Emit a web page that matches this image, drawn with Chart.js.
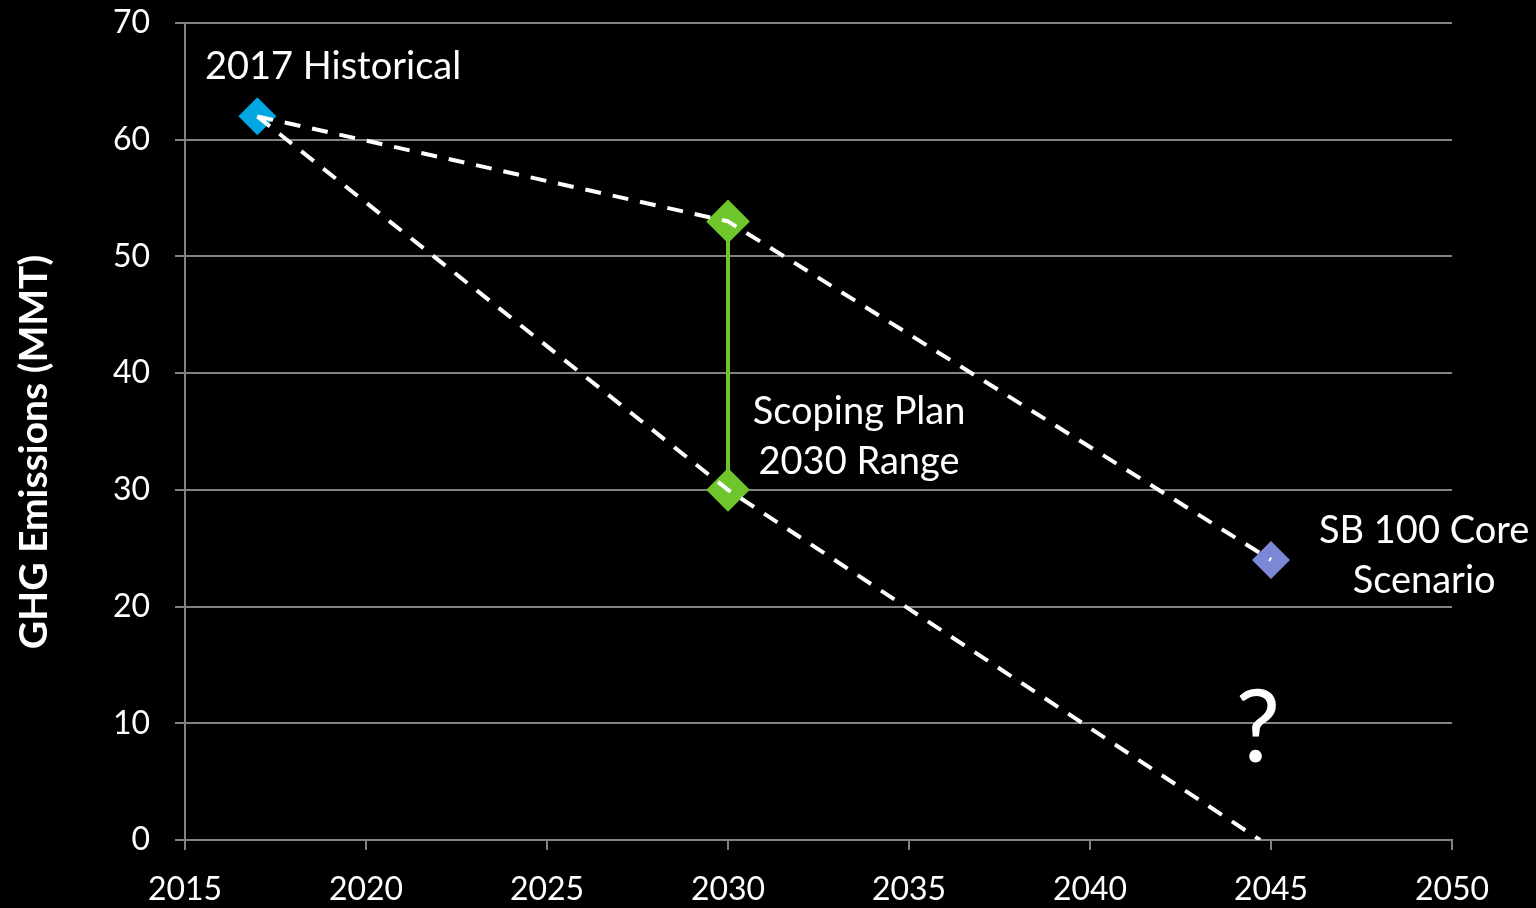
<!DOCTYPE html>
<html>
<head>
<meta charset="utf-8">
<script src="https://cdn.jsdelivr.net/npm/chart.js@4.4.0/dist/chart.umd.min.js"></script>
<style>
  html, body { margin: 0; background: #000; }
  #wrap { width: 1536px; height: 908px; position: relative; }
</style>
</head>
<body>
<div id="wrap"><canvas id="chart"></canvas></div>
<script>
// GHG emissions pathways — historical point, 2030 scoping range, SB 100 core scenario.
const xTicks = [2015, 2020, 2025, 2030, 2035, 2040, 2045, 2050];
const yTicks = [0, 10, 20, 30, 40, 50, 60, 70];

const historical = [{ x: 2017, y: 62 }];
const scopingRange = [{ x: 2030, y: 53 }, { x: 2030, y: 30 }];
const sb100Core = [{ x: 2045, y: 24 }];
const upperPath = [{ x: 2017, y: 62 }, { x: 2030, y: 53 }, { x: 2045, y: 24 }];
const lowerPath = [{ x: 2017, y: 62 }, { x: 2030, y: 30 }, { x: 2044.7, y: 0 }];

const yTitle = 'GHG Emissions (MMT)';
// text notes anchored in data units (x = year, y = emissions at baseline)
const notes = [
  { lines: ['2017 Historical'], x: 2015.55, y: 65.2, align: 'left', size: 38 },
  { lines: ['Scoping Plan', '2030 Range'], x: 2033.62, y: 35.6, align: 'center', size: 38 },
  { lines: ['SB 100 Core', 'Scenario'], x: 2049.23, y: 25.44, align: 'center', size: 38 },
  { lines: ['?'], x: 2044.64, y: 6.66, align: 'center', size: 100 },
];

const FONT = 'Lato, "Open Sans", sans-serif';
const GRID = '#828282';

const notesPlugin = {
  id: 'notes',
  afterDatasetsDraw(chart) {
    const { ctx, scales: { x, y } } = chart;
    ctx.save();
    ctx.fillStyle = '#fff';
    ctx.textBaseline = 'alphabetic';
    notes.forEach((n) => {
      ctx.font = `${n.size}px ${FONT}`;
      ctx.textAlign = n.align;
      const px = x.getPixelForValue(n.x);
      const py = y.getPixelForValue(n.y);
      n.lines.forEach((line, i) => ctx.fillText(line, px, py + i * 50));
    });
    // rotated axis title
    ctx.font = `bold 39px ${FONT}`;
    ctx.textAlign = 'center';
    ctx.textBaseline = 'middle';
    ctx.translate(34, 452);
    ctx.rotate(-Math.PI / 2);
    ctx.fillText(yTitle, 0, 0);
    ctx.restore();
  },
};

const dashed = (data) => ({
  data, showLine: true, borderColor: '#fff', borderWidth: 4,
  borderDash: [16, 12], pointRadius: 0, fill: false, order: 0,
});
const marker = (data, color) => ({
  data, pointStyle: 'rectRot', pointRadius: 19, pointHoverRadius: 19,
  backgroundColor: color, borderColor: color, borderWidth: 0, order: 1,
});

new Chart(document.getElementById('chart'), {
  type: 'scatter',
  data: {
    datasets: [
      dashed(upperPath),
      dashed(lowerPath),
      { ...marker(scopingRange, '#6fc62c'), showLine: true, borderColor: '#6fc62c', borderWidth: 4, order: 2 },
      marker(historical, '#00a7e3'),
      marker(sb100Core, '#7c87d8'),
    ],
  },
  options: {
    responsive: true, maintainAspectRatio: false, animation: false,
    layout: { padding: { top: 20, right: 84, left: 0, bottom: 0 } },
    plugins: { legend: { display: false }, tooltip: { enabled: false } },
    scales: {
      x: {
        type: 'linear', min: 2015, max: 2050,
        afterBuildTicks: (s) => { s.ticks = xTicks.map((v) => ({ value: v })); },
        afterFit: (s) => { s.height = 68; s.paddingLeft = 0; s.paddingRight = 0; },
        ticks: { color: '#fff', padding: 20, font: { family: FONT, size: 32 }, callback: (v) => String(v), maxRotation: 0, autoSkip: false },
        grid: { drawOnChartArea: false, color: GRID, lineWidth: 2, tickLength: 10 },
        border: { color: GRID, width: 2 },
      },
      y: {
        min: 0, max: 70,
        afterBuildTicks: (s) => { s.ticks = yTicks.map((v) => ({ value: v })); },
        afterFit: (s) => { s.width = 185; s.paddingTop = 0; s.paddingBottom = 0; },
        ticks: { color: '#fff', padding: 25, font: { family: FONT, size: 32 }, callback: (v) => String(v) },
        grid: { color: GRID, lineWidth: 2, tickLength: 10 },
        border: { color: GRID, width: 2 },
      },
    },
  },
  plugins: [notesPlugin],
});
</script>
</body>
</html>
